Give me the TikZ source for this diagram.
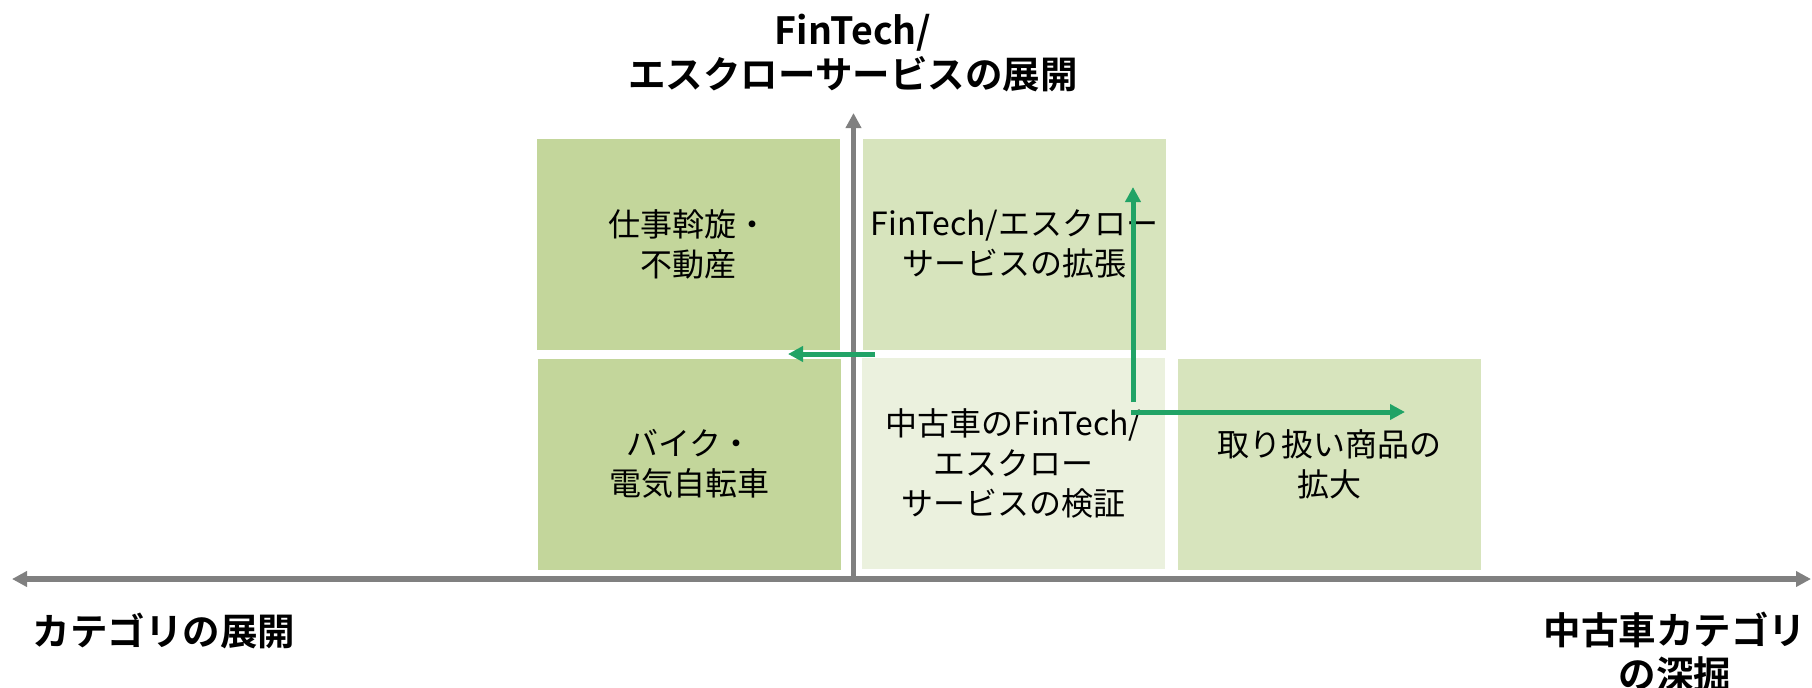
\documentclass[tikz,border=0pt]{standalone}
\usepackage{fontspec}
\setmainfont{Noto Sans CJK JP}[BoldFont={Noto Sans CJK JP Bold}]
\usetikzlibrary{arrows.meta}
\definecolor{boxA}{HTML}{C3D69B}
\definecolor{boxB}{HTML}{D7E4BD}
\definecolor{boxC}{HTML}{EBF1DE}
\definecolor{axisgray}{HTML}{808080}
\definecolor{arrowgreen}{HTML}{21A366}
\tikzset{
  quad/.style={fill=#1, draw=none, inner sep=0pt, align=center,
    minimum width=151.5pt, minimum height=105.5pt,
    font=\fontsize{16pt}{20pt}\selectfont},
  axislabel/.style={inner sep=0pt, align=center,
    font=\fontsize{18.75pt}{22pt}\selectfont\bfseries},
  axisline/.style={draw=axisgray, line width=2.6pt},
  axistip/.tip={Triangle[length=7.5pt, width=7.5pt]},
  movearrow/.style={draw=arrowgreen, line width=2.5pt,
    -{Triangle[length=7.5pt, width=7.5pt]}}
}
\begin{document}
\begin{tikzpicture}[x=0.5pt,y=-0.5pt]
\useasboundingbox[fill=white] (0,0) rectangle (1812,687);
% quadrants
\node[quad=boxA] (jobs) at (688.5,244.5) {仕事斡旋・\\不動産};
\node[quad=boxA] (bike) at (689.5,464) {バイク・\\電気自転車};
\node[quad=boxB] (fintechx) at (1014.5,244) {FinTech/エスクロー\\サービスの拡張};
\node[quad=boxC] (verify) at (1013.5,463.5) {中古車のFinTech/\\エスクロー\\サービスの検証};
\node[quad=boxB] (goods) at (1329.5,464) {取り扱い商品の\\拡大};
% axes
\coordinate (xl) at (12,579);
\coordinate (xr) at (1811,579);
\coordinate (yb) at (853.5,579);
\coordinate (yt) at (853.5,113);
\draw[axisline, axistip-axistip] (xl) -- (xr);
\draw[axisline, -axistip] (yb) -- (yt);
% axis labels
\node[axislabel] (ttl) at (853,53.5) {FinTech/\\エスクローサービスの展開};
\node[axislabel] (lft) at (164,631) {カテゴリの展開};
\node[axislabel] (rgt) at (1675,652) {中古車カテゴリ\\の深掘};
% movement arrows
\coordinate (ua0) at (1133,402);
\coordinate (ua1) at (1133,187);
\coordinate (ra0) at (1131,412);
\coordinate (ra1) at (1405,412);
\coordinate (la0) at (875,354);
\coordinate (la1) at (788,354);
\draw[movearrow] (ua0) -- (ua1);
\draw[movearrow] (ra0) -- (ra1);
\draw[movearrow] (la0) -- (la1);
\end{tikzpicture}
\end{document}
